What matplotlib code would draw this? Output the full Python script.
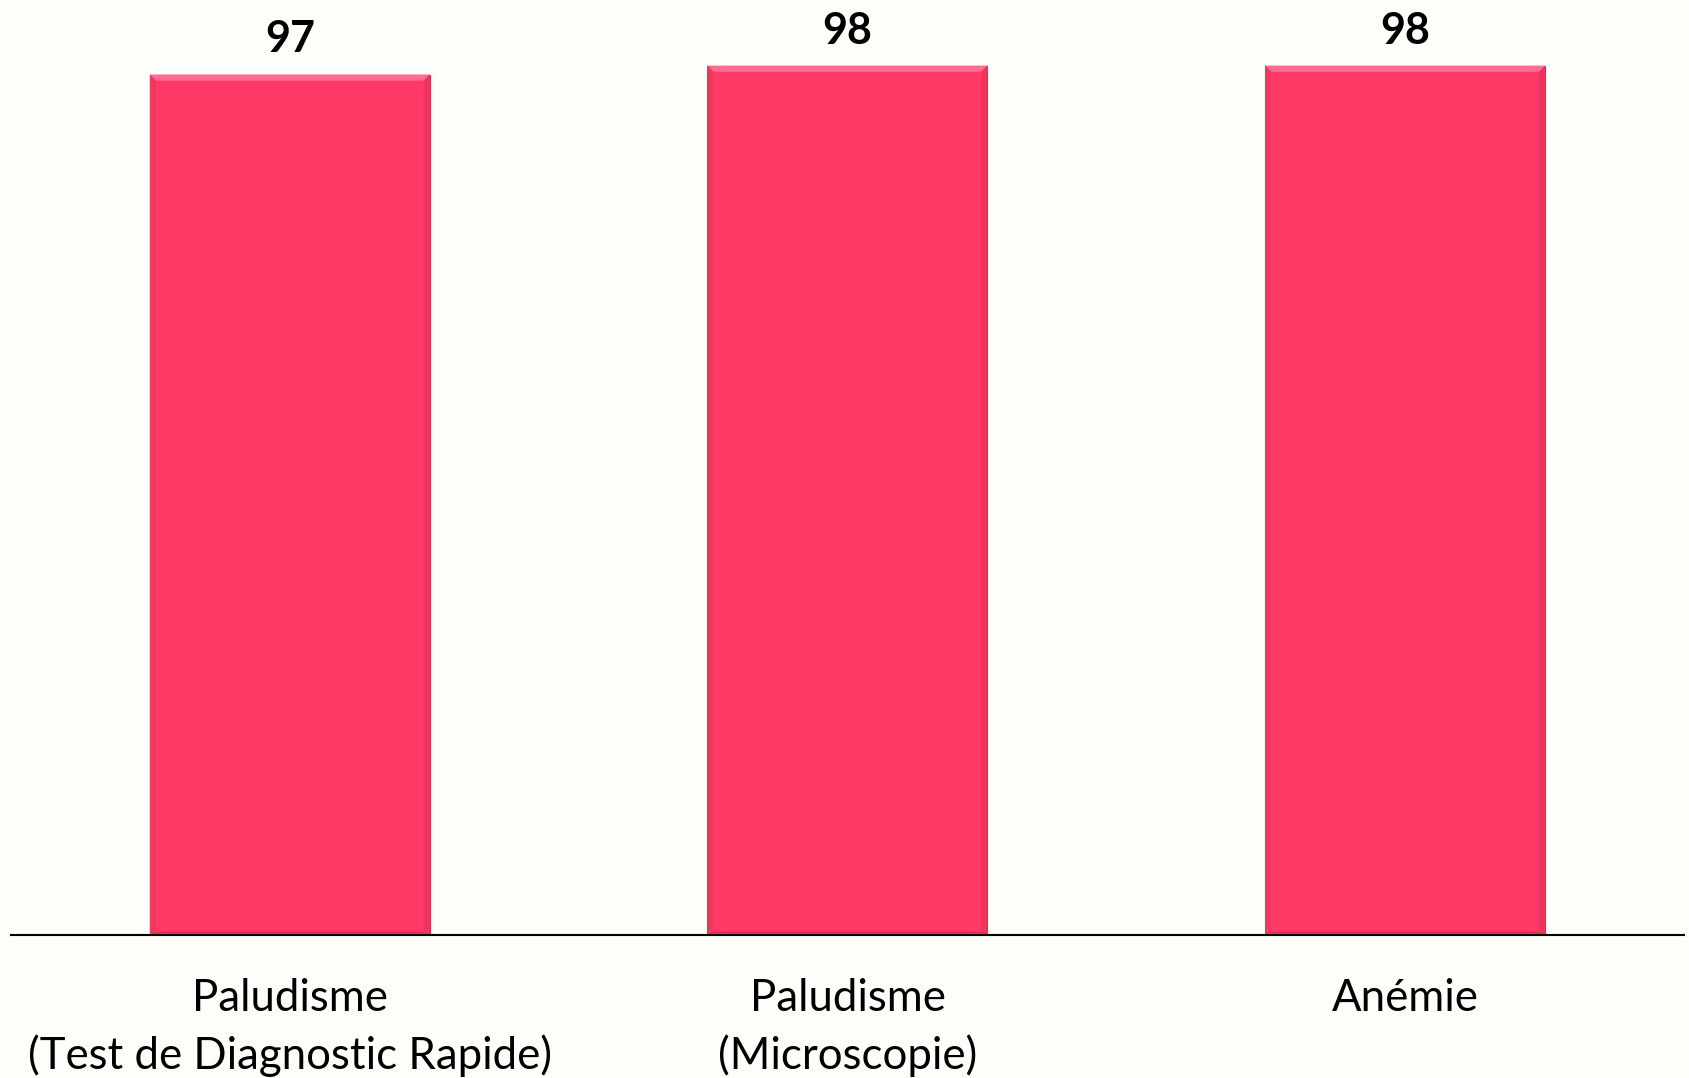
import matplotlib.pyplot as plt
from matplotlib.patches import Polygon

# pourcentages par type de test
categories = ["Paludisme\n(Test de Diagnostic Rapide)", "Paludisme\n(Microscopie)", "Anémie"]
valeurs = [97, 98, 98]

BG = "#FDFDF9"
ROSE = "#FF3A66"

plt.rcParams['font.family'] = ['Lato', 'DejaVu Sans']

fig = plt.figure(figsize=(16.89, 10.78), dpi=100, facecolor=BG)
ax = fig.add_axes([0.0065, 0.1327, 0.9905, 0.8673])
ax.set_facecolor(BG)

bars = ax.bar(range(len(valeurs)), valeurs, width=0.502, color=ROSE,
              edgecolor="#C8365A", linewidth=0.8, zorder=2)

# petit effet de biseau sur le haut des barres
for b in bars:
    x0, w, h = b.get_x(), b.get_width(), b.get_height()
    d = 0.7
    dx = w * 0.022
    top = Polygon([[x0, h], [x0 + w, h], [x0 + w - dx, h - d], [x0 + dx, h - d]],
                  closed=True, facecolor="#FF6D92", edgecolor="none", zorder=3)
    left = Polygon([[x0, 0], [x0, h], [x0 + dx, h - d], [x0 + dx, d * 0.6]],
                   closed=True, facecolor="#F2375F", edgecolor="none", zorder=3)
    right = Polygon([[x0 + w, 0], [x0 + w, h], [x0 + w - dx, h - d], [x0 + w - dx, d * 0.6]],
                    closed=True, facecolor="#EC355D", edgecolor="none", zorder=3)
    bottom = Polygon([[x0, 0], [x0 + w, 0], [x0 + w - dx, d * 0.6], [x0 + dx, d * 0.6]],
                     closed=True, facecolor="#E6335A", edgecolor="none", zorder=3)
    for p in (top, left, right, bottom):
        ax.add_patch(p)

for i, v in enumerate(valeurs):
    ax.text(i, v + 3.95, str(v), ha="center", va="center",
            fontsize=31, fontweight="bold", color="black")

ax.set_xlim(-0.5, 2.5)
ax.set_ylim(0, 105.4)
ax.set_xticks(range(len(categories)))
ax.set_xticklabels(categories, fontsize=31.5, linespacing=1.45, va="top")
ax.tick_params(axis="x", length=0, pad=31)
ax.set_yticks([])
for s in ("left", "right", "top"):
    ax.spines[s].set_visible(False)
ax.spines["bottom"].set_linewidth(1.5)
ax.spines["bottom"].set_zorder(4)

fig.savefig("out.png", dpi=100, facecolor=BG)
